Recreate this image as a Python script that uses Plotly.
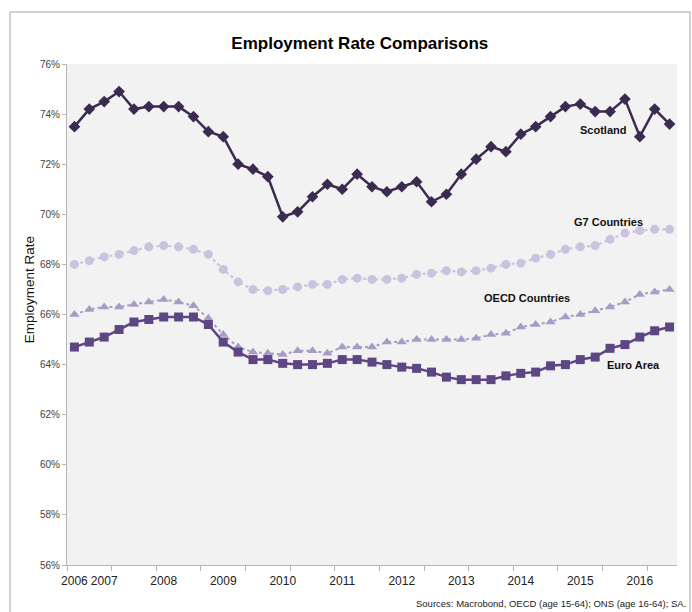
import plotly.graph_objects as go

# Quarterly employment rates (%), 41 quarters
scotland = [73.5, 74.2, 74.5, 74.9, 74.2, 74.3, 74.3, 74.3, 73.9, 73.3, 73.1,
            72.0, 71.8, 71.5, 69.9, 70.1, 70.7, 71.2, 71.0, 71.6, 71.1, 70.9,
            71.1, 71.3, 70.5, 70.8, 71.6, 72.2, 72.7, 72.5, 73.2, 73.5, 73.9,
            74.3, 74.4, 74.1, 74.1, 74.6, 73.1, 74.2, 73.6]
g7 = [68.0, 68.15, 68.3, 68.4, 68.55, 68.7, 68.75, 68.7, 68.6, 68.4, 67.8,
      67.3, 67.0, 66.95, 67.0, 67.1, 67.2, 67.2, 67.4, 67.45, 67.4, 67.4,
      67.45, 67.6, 67.65, 67.75, 67.7, 67.75, 67.85, 68.0, 68.05, 68.25, 68.4,
      68.6, 68.7, 68.75, 69.0, 69.25, 69.35, 69.4, 69.4]
oecd = [66.0, 66.2, 66.3, 66.3, 66.4, 66.5, 66.6, 66.5, 66.35, 65.85, 65.2,
        64.7, 64.5, 64.45, 64.4, 64.55, 64.55, 64.45, 64.7, 64.7, 64.7, 64.9,
        64.9, 65.0, 65.0, 65.0, 65.0, 65.05, 65.2, 65.25, 65.5, 65.6, 65.7,
        65.9, 66.0, 66.15, 66.3, 66.5, 66.8, 66.9, 67.0]
euro = [64.7, 64.9, 65.1, 65.4, 65.7, 65.8, 65.9, 65.9, 65.9, 65.6, 64.9,
        64.5, 64.2, 64.2, 64.05, 64.0, 64.0, 64.05, 64.2, 64.2, 64.1, 64.0,
        63.9, 63.85, 63.7, 63.5, 63.4, 63.4, 63.4, 63.55, 63.65, 63.7, 63.95,
        64.0, 64.2, 64.3, 64.65, 64.8, 65.1, 65.35, 65.5]

quarters = list(range(len(scotland)))
year_labels = ["2006", "2007", "2008", "2009", "2010", "2011",
               "2012", "2013", "2014", "2015", "2016"]
year_positions = [0, 2, 6, 10, 14, 18, 22, 26, 30, 34, 38]
tick_marks = [q - 0.5 for q in range(0, len(scotland) + 1, 3)]
y_ticks = list(range(56, 77, 2))
y_tick_labels = [f"{v}%" for v in y_ticks]

FONT = "Liberation Sans, Arial, sans-serif"

fig = go.Figure()

fig.add_trace(go.Scatter(
    x=quarters, y=g7, mode="lines+markers", name="G7 Countries",
    line=dict(color="#cbc2de", width=2.2, dash="dot"),
    marker=dict(symbol="circle", size=9, color="#cbc2de")))
fig.add_trace(go.Scatter(
    x=quarters, y=oecd, mode="lines+markers", name="OECD Countries",
    line=dict(color="#a99bc5", width=2, dash="dot"),
    marker=dict(symbol="triangle-up", size=9, color="#a99bc5")))
fig.add_trace(go.Scatter(
    x=quarters, y=euro, mode="lines+markers", name="Euro Area",
    line=dict(color="#5d4683", width=2.5),
    marker=dict(symbol="square", size=9, color="#5d4683")))
fig.add_trace(go.Scatter(
    x=quarters, y=scotland, mode="lines+markers", name="Scotland",
    line=dict(color="#3b2b50", width=2.5),
    marker=dict(symbol="diamond", size=9, color="#3b2b50")))

# Invisible trace carrying the tick-mark axis
fig.add_trace(go.Scatter(x=[quarters[0]], y=[scotland[0]], xaxis="x2",
                         mode="markers", marker=dict(opacity=0),
                         hoverinfo="skip"))

series_labels = [
    ("Scotland", 35.5, 73.37),
    ("G7 Countries", 35.9, 69.69),
    ("OECD Countries", 30.4, 66.66),
    ("Euro Area", 37.6, 63.98),
]
for text, x, y in series_labels:
    fig.add_annotation(x=x, y=y, text=f"<b>{text}</b>", showarrow=False,
                       font=dict(family=FONT, size=11, color="#111111"))

fig.add_annotation(xref="paper", yref="paper", x=-0.061, y=0.55,
                   xanchor="center", yanchor="middle",
                   text="Employment Rate", textangle=-90, showarrow=False,
                   font=dict(family=FONT, size=13.5, color="#111111"))
fig.add_annotation(xref="paper", yref="paper", x=1.018, y=-0.077,
                   xanchor="right", yanchor="middle",
                   text="Sources: Macrobond, OECD (age 15-64); ONS (age 16-64); SA.",
                   showarrow=False,
                   font=dict(family=FONT, size=9.5, color="#222222"))

# Outer chart frame
fig.add_shape(type="rect", xref="paper", yref="paper",
              x0=-0.0934, x1=1.0213, y0=-0.12, y1=1.1038,
              line=dict(color="#c4c4c4", width=1.5), layer="below")

fig.update_layout(
    width=692, height=612,
    margin=dict(l=67, r=15, t=64, b=47),
    paper_bgcolor="white", plot_bgcolor="#f2f2f2",
    showlegend=False,
    title=dict(text="<b>Employment Rate Comparisons</b>",
               x=0.52, xanchor="center", y=0.93, yanchor="middle",
               xref="container", yref="container",
               font=dict(family=FONT, size=17, color="#000000")),
    xaxis=dict(range=[-0.5, len(scotland) - 0.5], tickvals=year_positions,
               ticktext=year_labels, ticks="", tickangle=0, showgrid=False,
               showline=True, linecolor="#b5b5b5", linewidth=1,
               zeroline=False, ticklabelstandoff=5,
               tickfont=dict(family=FONT, size=12, color="#222222")),
    xaxis2=dict(range=[-0.5, len(scotland) - 0.5], overlaying="x",
                side="bottom", tickvals=tick_marks, ticks="outside",
                ticklen=5, tickcolor="#b5b5b5", showticklabels=False,
                showgrid=False, showline=False, zeroline=False),
    yaxis=dict(range=[56, 76], tickvals=y_ticks, ticktext=y_tick_labels,
               ticks="outside", ticklen=4, tickcolor="#b5b5b5",
               showgrid=False, showline=True, linecolor="#b5b5b5",
               linewidth=1, zeroline=False,
               tickfont=dict(family=FONT, size=10, color="#444444")),
)

fig.write_html("out.html")
